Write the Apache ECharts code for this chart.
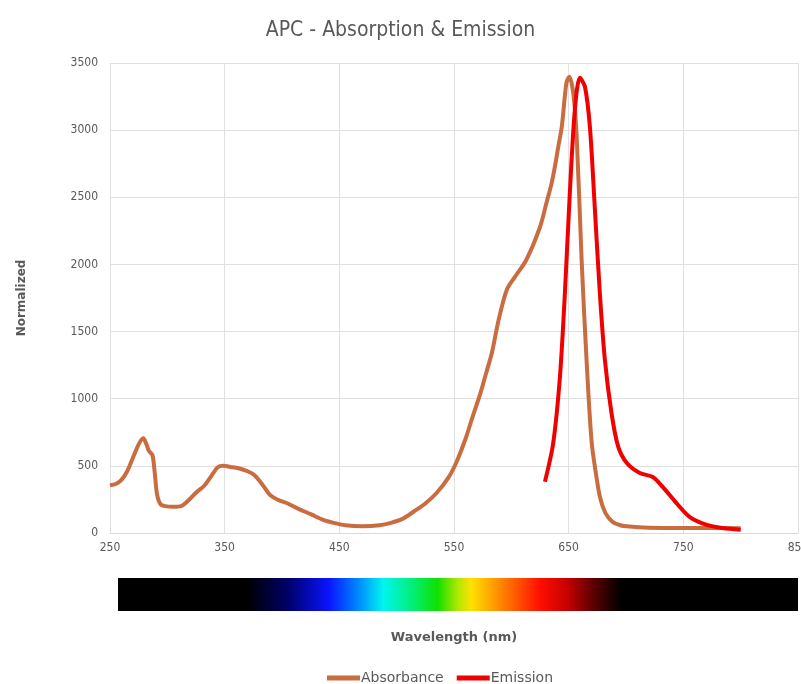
<!DOCTYPE html>
<html>
<head>
<meta charset="utf-8">
<script src="https://cdn.jsdelivr.net/npm/echarts@6/dist/echarts.min.js"></script>
<style>html,body{margin:0;padding:0;background:#fff}#c{width:801px;height:684px}</style>
</head>
<body>
<div id="c"></div>
<script>
const absorbanceNm = [250,255,260,265,270,275,279,282,284,287,289,291,294,298,305,312,318,325,332,338,344,349,355,362,370,376,383,390,397,405,413,425,436,445,455,470,485,495,505,515,525,535,545,552,560,566,573,578,583,589,596,603,613,625,631,635,638,641,644,648,650.5,654,657,661.3,665.6,670,674,677.5,682,688,695,703,720,747,775,800];
const absorbanceVal = [355,365,395,460,560,660,705,655,610,580,450,290,215,200,195,200,240,300,350,420,490,500,492,482,460,430,360,280,245,220,185,140,97,75,58,50,57,75,105,160,220,300,410,525,700,860,1040,1190,1340,1590,1810,1906,2033,2279,2470,2600,2728,2880,3025,3350,3398,3276,2951,2033,1288,680,430,260,150,85,58,48,40,37,37,35];
const emissionNm = [629.3,636.5,642.4,646.7,651,655.4,659.8,664.2,668.5,672.9,677.2,681.6,687.4,693.2,700.7,712,723.4,732,744,755.7,770.5,784,800];
const emissionVal = [382,668,1164,1785,2529,3150,3390,3323,3025,2405,1785,1288,891,643,521,447,417,343,223,119,60,37,25];
const xTicks = [250,350,450,550,650,750,850];
const yTicks = [0,500,1000,1500,2000,2500,3000,3500];

const zip = (a,b)=>a.map((x,i)=>[x,b[i]]);
const txt = '#595959';
const fontC = '"DejaVu Sans Condensed","DejaVu Sans",sans-serif';
const font = '"DejaVu Sans",sans-serif';

const chart = echarts.init(document.getElementById('c'));
chart.setOption({
  backgroundColor:'#fff',
  animation:false,
  title:{text:'APC - Absorption & Emission',left:'center',top:15,
    textStyle:{fontSize:21,fontWeight:'normal',color:txt,fontFamily:fontC}},
  grid:{left:110,right:3,top:63,bottom:151,containLabel:false,outerBoundsMode:'none'},
  legend:{left:322,bottom:-6,itemWidth:33,itemHeight:5,itemGap:13,icon:'rect',
    textStyle:{color:txt,fontSize:14,fontFamily:font,padding:[0,0,0,-4]},
    data:['Absorbance','Emission']},
  xAxis:{type:'value',min:xTicks[0],max:xTicks[xTicks.length-1],interval:100,
    name:'Wavelength (nm)',nameLocation:'middle',nameGap:98,
    nameTextStyle:{fontSize:13,fontWeight:'bold',color:txt,fontFamily:font},
    axisLine:{show:true,lineStyle:{color:'#d9d9d9'}},axisTick:{show:false},
    axisLabel:{color:txt,fontSize:12,margin:9,fontFamily:fontC},
    splitLine:{show:true,lineStyle:{color:'#e0e0e0'}}},
  yAxis:{type:'value',min:yTicks[0],max:yTicks[yTicks.length-1],interval:500,
    name:'Normalized',nameLocation:'middle',nameGap:82,
    nameTextStyle:{fontSize:12,fontWeight:'bold',color:txt,fontFamily:font},
    axisLine:{show:false},axisTick:{show:false},
    axisLabel:{color:txt,fontSize:12,margin:12,fontFamily:fontC,formatter:v=>String(v)},
    splitLine:{show:true,lineStyle:{color:'#e0e0e0'}}},
  graphic:[{type:'rect',left:118,top:578,shape:{width:680,height:33},
    style:{fill:new echarts.graphic.LinearGradient(0,0,1,0,[
      {offset:0,color:'#000'},{offset:0.19,color:'#000'},{offset:0.25,color:'#00006a'},
      {offset:0.31,color:'#0a14ff'},{offset:0.35,color:'#0080ff'},{offset:0.39,color:'#00f5f0'},
      {offset:0.43,color:'#00f080'},{offset:0.47,color:'#10e000'},{offset:0.50,color:'#b0e800'},
      {offset:0.52,color:'#ffe000'},{offset:0.56,color:'#ff8c00'},{offset:0.62,color:'#ff1000'},
      {offset:0.66,color:'#c80000'},{offset:0.70,color:'#5a0000'},{offset:0.74,color:'#000'},
      {offset:1,color:'#000'}])}}],
  series:[
    {name:'Absorbance',type:'line',smooth:0.3,symbol:'none',data:zip(absorbanceNm,absorbanceVal),
      lineStyle:{width:4,color:'#c96c40'},itemStyle:{color:'#c96c40'}},
    {name:'Emission',type:'line',smooth:0.3,symbol:'none',data:zip(emissionNm,emissionVal),
      lineStyle:{width:4,color:'#f00000'},itemStyle:{color:'#f00000'}}
  ]
});
</script>
</body>
</html>
